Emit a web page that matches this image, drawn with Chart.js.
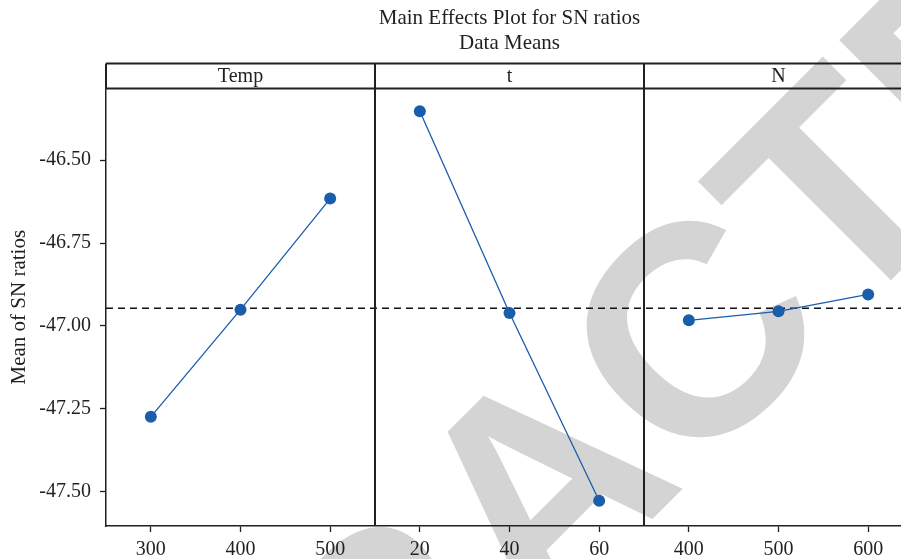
<!DOCTYPE html>
<html>
<head>
<meta charset="utf-8">
<script src="https://cdn.jsdelivr.net/npm/chart.js@4/dist/chart.umd.min.js"></script>
<style>
  html, body { margin: 0; padding: 0; background: #fff; overflow: hidden; }
  #wrap { width: 901px; height: 559px; overflow: hidden; position: relative; }
  canvas { display: block; }
</style>
</head>
<body>
<div id="wrap"><canvas id="effectsChart" width="920" height="559"></canvas></div>
<script>
// factor levels (tick labels) and mean SN ratio per level
const panelNames = ['Temp', 't', 'N'];
const tempLevels = ['300', '400', '500'];
const tempSN = [-47.274, -46.951, -46.616];
const timeLevels = ['20', '40', '60'];
const timeSN = [-46.353, -46.961, -47.527];
const nLevels = ['400', '500', '600'];
const nSN = [-46.983, -46.956, -46.905];
const yTicks = [-46.5, -46.75, -47.0, -47.25, -47.5];

const meanSets = [tempSN, timeSN, nSN];

// each panel gets 3 slots on one shared x axis: 1-3, 4-6, 7-9
const xLabels = [].concat(tempLevels, timeLevels, nLevels);
const grandMean = tempSN.reduce((a, b) => a + b, 0) / tempSN.length;

const blue = '#1a5dab';
const ink = '#231f20';

const datasets = meanSets.map((vals, p) => ({
  data: vals.map((v, i) => ({ x: p * 3 + i + 1, y: v })),
  showLine: true,
  borderColor: blue,
  borderWidth: 1.3,
  backgroundColor: blue,
  pointRadius: 6,
  pointBorderWidth: 0,
  order: 1
}));
datasets.push({
  data: [{ x: 0.5, y: grandMean }, { x: 9.5, y: grandMean }],
  showLine: true,
  borderColor: '#111',
  borderWidth: 1.5,
  borderDash: [7, 5],
  pointRadius: 0,
  order: 2
});

// grey watermark behind the chart
const watermark = {
  id: 'watermark',
  beforeDraw(chart) {
    const ctx = chart.ctx;
    ctx.save();
    ctx.fillStyle = '#d4d4d4';
    ctx.font = 'bold 300px "Liberation Sans"';
    ctx.translate(536, 484);
    ctx.rotate(-Math.PI / 4);
    ctx.textAlign = 'center';
    ctx.textBaseline = 'alphabetic';
    ctx.fillText('RETRACTED', 0, 107);
    ctx.restore();
  }
};

// panel header strip and dividers
const panels = {
  id: 'panels',
  afterDatasetsDraw(chart) {
    const ctx = chart.ctx;
    const area = chart.chartArea;
    const x = chart.scales.x;
    const headTop = area.top - 25;
    ctx.save();
    ctx.strokeStyle = ink;
    ctx.lineWidth = 2;
    ctx.beginPath();
    ctx.moveTo(area.left, headTop);
    ctx.lineTo(area.right, headTop);
    ctx.moveTo(area.left, area.top);
    ctx.lineTo(area.right, area.top);
    ctx.moveTo(area.left, headTop);
    ctx.lineTo(area.left, area.top);
    [3.5, 6.5].forEach(v => {
      const px = Math.round(x.getPixelForValue(v));
      ctx.moveTo(px, headTop);
      ctx.lineTo(px, area.bottom);
    });
    ctx.stroke();
    ctx.fillStyle = ink;
    ctx.font = '20px "Liberation Serif"';
    ctx.textAlign = 'center';
    ctx.textBaseline = 'middle';
    panelNames.forEach((name, p) => {
      const cx = (x.getPixelForValue(p * 3 + 0.5) + x.getPixelForValue(p * 3 + 3.5)) / 2;
      ctx.fillText(name, cx, (headTop + area.top) / 2 + 1);
    });
    ctx.restore();
  }
};

new Chart(document.getElementById('effectsChart'), {
  type: 'scatter',
  data: { datasets: datasets },
  plugins: [watermark, panels],
  options: {
    responsive: false,
    animation: false,
    layout: { padding: { left: 0, right: 7, top: 0, bottom: 0 } },
    plugins: {
      legend: { display: false },
      tooltip: { enabled: false },
      title: {
        display: true,
        fullSize: false,
        text: ['Main Effects Plot for SN ratios', 'Data Means'],
        color: ink,
        font: { family: 'Liberation Serif', size: 21, weight: 'normal', lineHeight: 1.2 },
        padding: { top: 6, bottom: 32 }
      }
    },
    scales: {
      x: {
        type: 'linear',
        min: 0.5,
        max: 9.5,
        afterBuildTicks: scale => {
          scale.ticks = xLabels.map((_, i) => ({ value: i + 1 }));
        },
        afterFit: scale => { scale.height = 33; },
        ticks: {
          autoSkip: false,
          maxRotation: 0,
          padding: 6,
          color: ink,
          font: { family: 'Liberation Serif', size: 20 },
          callback: value => xLabels[value - 1]
        },
        grid: { drawOnChartArea: false, drawTicks: true, tickLength: 6, color: ink, tickWidth: 1.3 },
        border: { display: true, color: ink, width: 1.5 }
      },
      y: {
        min: -47.603,
        max: -46.284,
        afterBuildTicks: scale => {
          scale.ticks = yTicks.map(v => ({ value: v }));
        },
        afterFit: scale => { scale.width = 106; },
        ticks: {
          padding: 9,
          color: ink,
          font: { family: 'Liberation Serif', size: 20 },
          callback: value => Number(value).toFixed(2)
        },
        title: {
          display: true,
          text: 'Mean of SN ratios',
          color: ink,
          font: { family: 'Liberation Serif', size: 21 },
          padding: { top: 7, bottom: 0 }
        },
        grid: { drawOnChartArea: false, drawTicks: true, tickLength: 6, color: ink, tickWidth: 1.3 },
        border: { display: true, color: ink, width: 1.5 }
      }
    }
  }
});
</script>
</body>
</html>
